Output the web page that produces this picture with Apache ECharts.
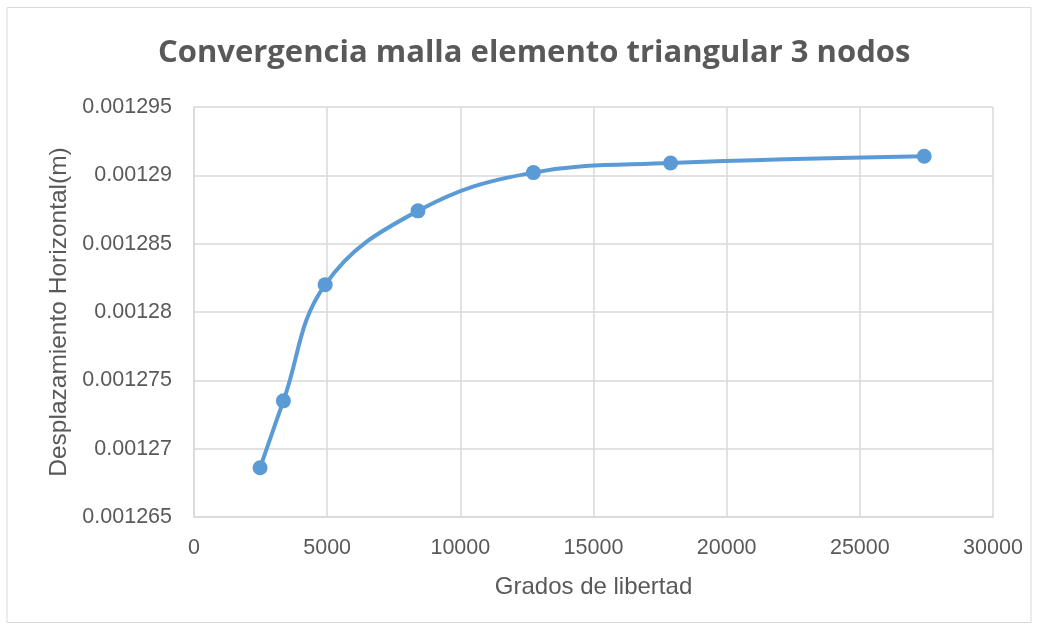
<!DOCTYPE html>
<html>
<head>
<meta charset="utf-8">
<script src="https://cdn.jsdelivr.net/npm/echarts@6/dist/echarts.min.js"></script>
<style>html,body{margin:0;padding:0;background:#fff}#c{width:1039px;height:631px}</style>
</head>
<body>
<div id="c"></div>
<script>
const titleText = 'Convergencia malla elemento triangular 3 nodos';
const xName = 'Grados de libertad';
const yName = 'Desplazamiento Horizontal(m)';
const gradosLibertad = [2480, 3357, 4925, 8410, 12744, 17895, 27417];
const desplazamiento = [0.0012686, 0.0012735, 0.0012820, 0.0012874, 0.0012902, 0.0012909, 0.0012914];
const xMin = 0, xMax = 30000, xStep = 5000;
const yMin = 0.001265, yMax = 0.001295, yStep = 0.000005;

const FONT = 'Liberation Sans';
const chart = echarts.init(document.getElementById('c'), null, {renderer: 'canvas'});
chart.setOption({
  backgroundColor: '#fff',
  animation: false,
  title: {
    text: titleText, left: 153, top: 33,
    textStyle: {fontFamily: 'Open Sans', fontWeight: 'bold', fontSize: 31, color: '#595959'}
  },
  graphic: [{
    type: 'rect', shape: {x: 7, y: 7.5, width: 1024, height: 615},
    style: {fill: 'none', stroke: '#d9d9d9', lineWidth: 1}, silent: true
  }],
  grid: {left: 194, right: 46, top: 107, bottom: 114, containLabel: false},
  xAxis: {
    type: 'value', min: xMin, max: xMax, interval: xStep,
    name: xName, nameLocation: 'middle', nameGap: 58,
    nameTextStyle: {fontFamily: FONT, fontSize: 24, color: '#595959'},
    axisLine: {show: true, lineStyle: {color: '#d9d9d9', width: 1.5}},
    axisTick: {show: false},
    axisLabel: {fontFamily: FONT, fontSize: 21.5, color: '#595959', margin: 20,
      formatter: v => String(v)},
    splitLine: {show: true, lineStyle: {color: '#d9d9d9', width: 1.5}}
  },
  yAxis: {
    type: 'value', min: yMin, max: yMax, interval: yStep,
    name: yName, nameLocation: 'middle', nameGap: 122, nameRotate: 90,
    nameTextStyle: {fontFamily: FONT, fontSize: 24.5, color: '#595959'},
    axisLine: {show: true, lineStyle: {color: '#d9d9d9', width: 1.5}},
    axisTick: {show: false},
    axisLabel: {fontFamily: FONT, fontSize: 21.5, color: '#595959', margin: 22,
      formatter: v => String(parseFloat(v.toPrecision(6)))},
    splitLine: {show: true, lineStyle: {color: '#d9d9d9', width: 1.5}}
  },
  series: [{
    type: 'line',
    data: gradosLibertad.map((x, i) => [x, desplazamiento[i]]),
    smooth: 0.4,
    symbol: 'circle', symbolSize: 15,
    lineStyle: {color: '#5b9bd5', width: 4},
    itemStyle: {color: '#5b9bd5'}
  }]
});
</script>
</body>
</html>
